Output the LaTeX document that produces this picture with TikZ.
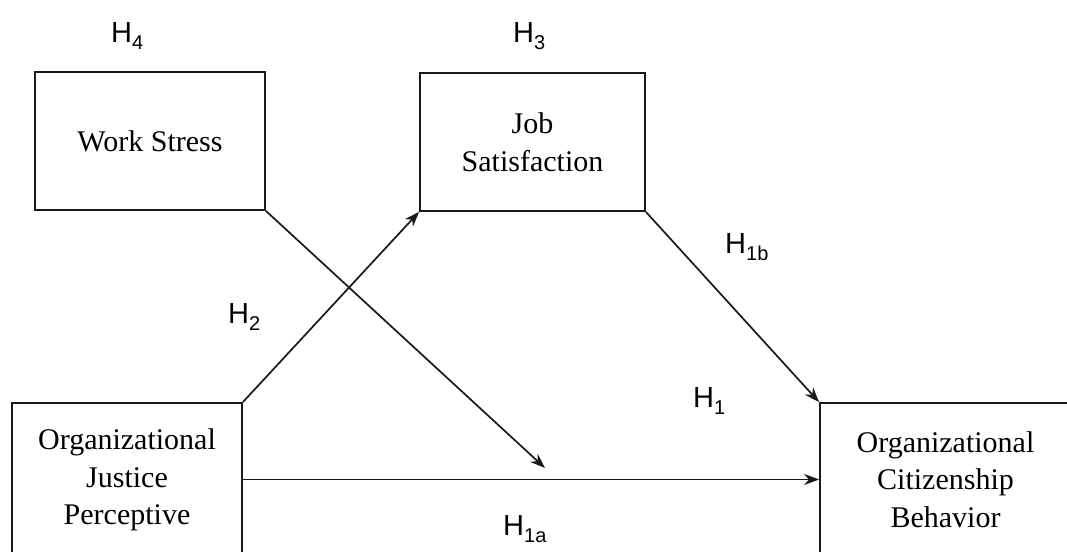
\documentclass[tikz,border=0pt]{standalone}
\usepackage{fontspec}
\setmainfont{Liberation Serif}
\newfontfamily\hfont{Liberation Sans}
\usetikzlibrary{arrows.meta}
\begin{document}
\begin{tikzpicture}[x=1pt,y=-1pt,
  box/.style={draw=black!90,line width=1.8pt,rectangle,inner sep=0pt,align=center,
    font=\fontsize{30}{37.5}\selectfont},
  hyp/.style={anchor=base west,inner sep=0pt,font=\hfont\fontsize{29}{34}\selectfont},
  conn/.style={draw=black!90,line width=1.7pt,-{Stealth[length=15pt,width=11pt]}}]
\useasboundingbox (0,0) rectangle (1067,551);
\fill[white] (0,0) rectangle (1067,551);
\node[box,minimum width=230pt,minimum height=138pt] (ws) at (150,141) {Work Stress};
\node[box,minimum width=225pt,minimum height=138pt] (js) at (532.5,142) {Job\\Satisfaction};
\node[box,minimum width=230pt,minimum height=153pt] (ojp) at (127,479.5) {\raisebox{-3pt}{\begin{tabular}{@{}c@{}}Organizational\\Justice\\Perceptive\end{tabular}}};
\node[box,minimum width=251pt,minimum height=153pt] (ocb) at (945.5,479.5) {Organizational\\Citizenship\\Behavior};
\coordinate (wsend) at (545,468);
\draw[conn] (ojp.north east) -- (js.south west);
\draw[conn] (ws.south east) -- (wsend);
\draw[conn] (js.south east) -- (ocb.north west);
\draw[conn] (ojp.east) -- (ocb.west);
\node[hyp] (h4) at (111,43) {H\raisebox{-7pt}{\fontsize{20}{20}\selectfont 4}};
\node[hyp] (h3) at (513,43) {H\raisebox{-7pt}{\fontsize{20}{20}\selectfont 3}};
\node[hyp] (h1b) at (725,253) {H\raisebox{-7pt}{\fontsize{20}{20}\selectfont 1b}};
\node[hyp] (h2) at (228,323) {H\raisebox{-7pt}{\fontsize{20}{20}\selectfont 2}};
\node[hyp] (h1) at (693,407) {H\raisebox{-7pt}{\fontsize{20}{20}\selectfont 1}};
\node[hyp] (h1a) at (503,535) {H\raisebox{-7pt}{\fontsize{20}{20}\selectfont 1a}};
\end{tikzpicture}
\end{document}
